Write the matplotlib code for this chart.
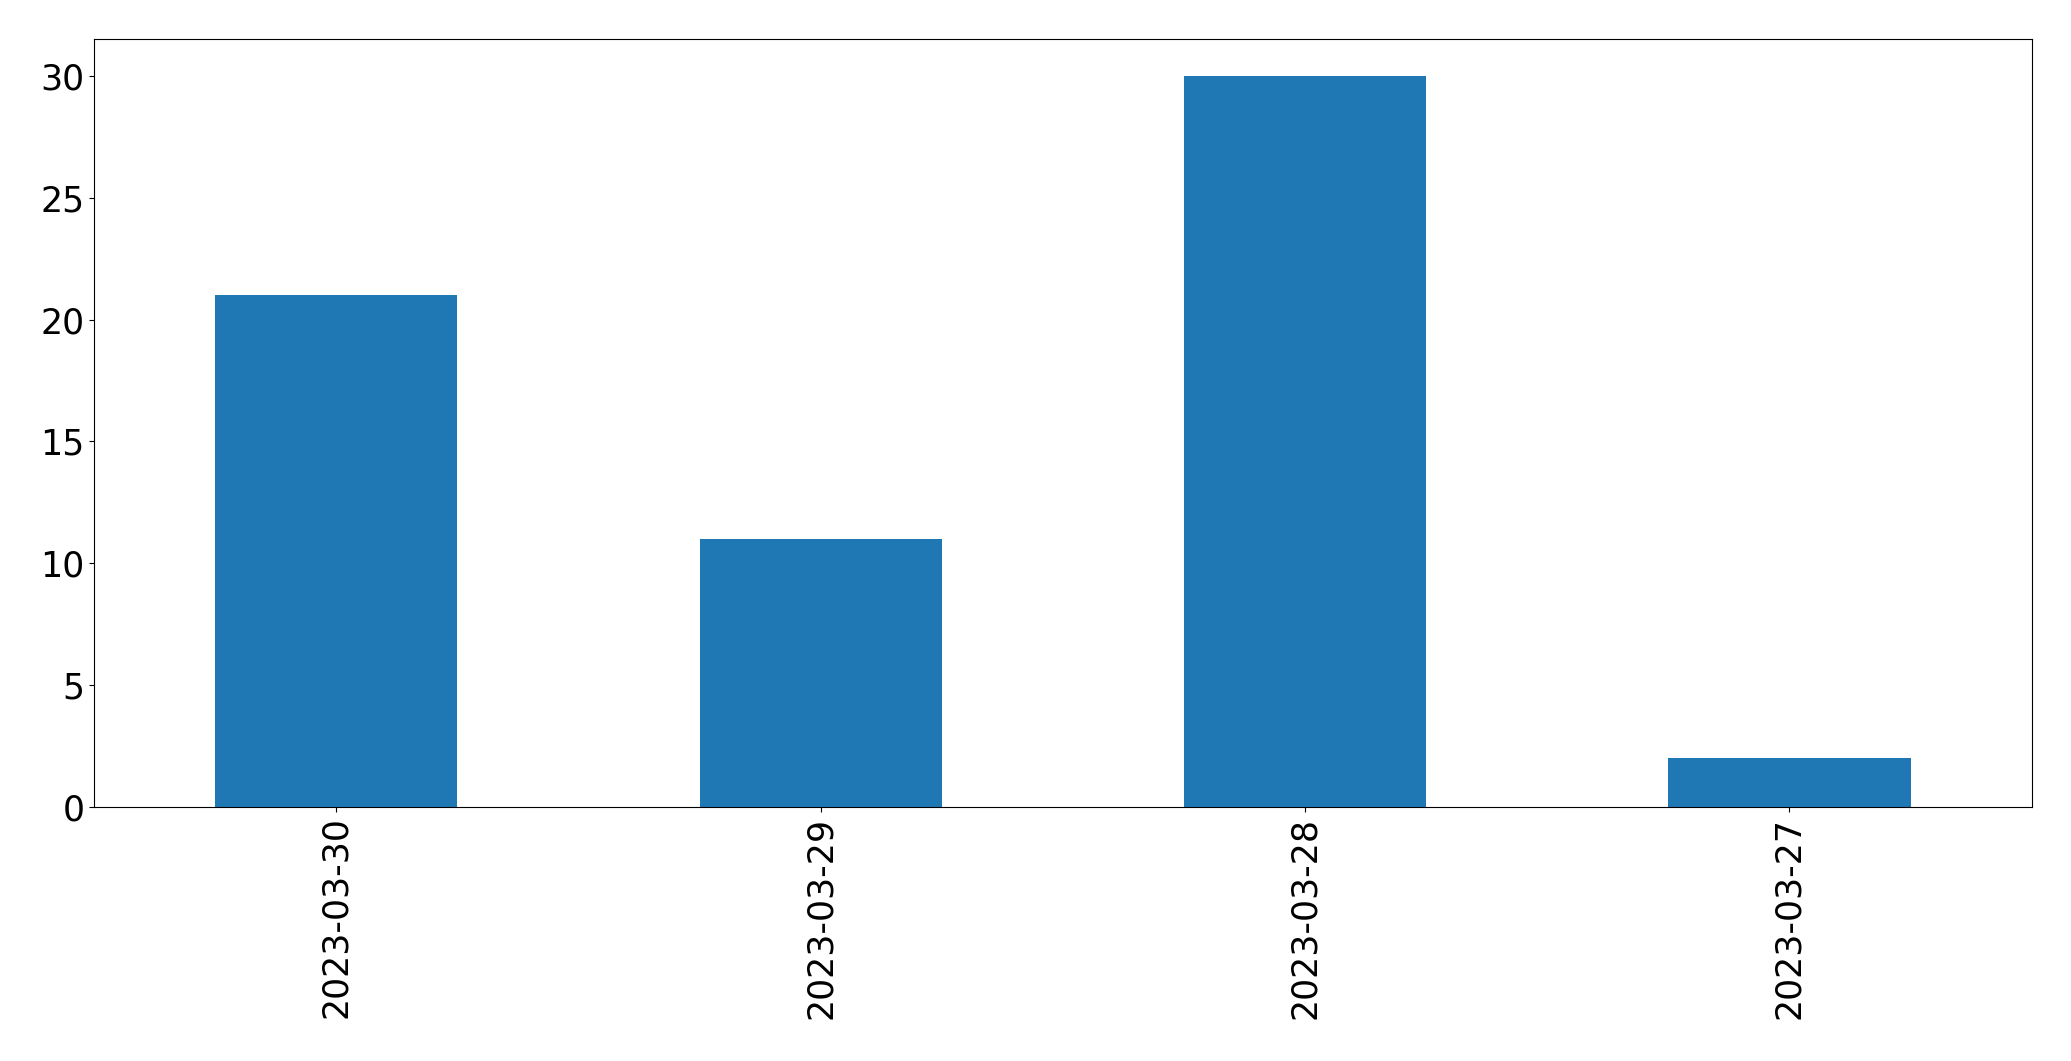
import matplotlib
matplotlib.use('Agg')
import matplotlib.pyplot as plt
import pandas as pd

# counts per day
dates = ['2023-03-30', '2023-03-29', '2023-03-28', '2023-03-27']
counts = [21, 11, 30, 2]

series = pd.Series(counts, index=dates)

plt.rcParams['font.size'] = 25
fig, ax = plt.subplots(figsize=(20.71, 10.61), dpi=100)
series.plot(kind='bar', ax=ax, color='#1f77b4')
ax.tick_params(axis='both', labelsize=25)
plt.subplots_adjust(left=0.0455, right=0.981, top=0.963, bottom=0.2395)
plt.savefig('out.png', dpi=100)
